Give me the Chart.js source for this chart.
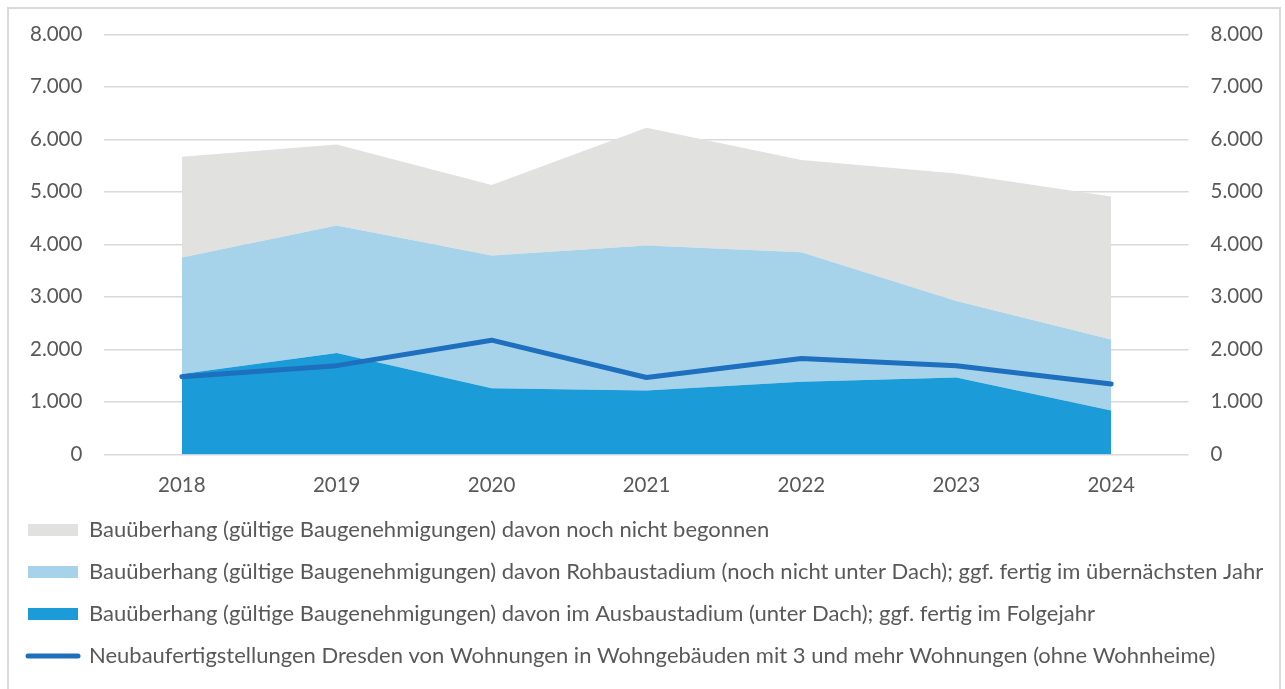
<!DOCTYPE html>
<html>
<head>
<meta charset="utf-8">
<script src="https://cdn.jsdelivr.net/npm/chart.js@4.4.1/dist/chart.umd.min.js"></script>
<style>
  html, body { margin: 0; padding: 0; background: #fff; }
  #wrap { position: relative; width: 1285px; height: 689px; }
  #frame { position: absolute; left: 7px; top: 7px; width: 1274px; height: 690px; border: 2px solid #d9d9d9; box-sizing: border-box; pointer-events: none; }
  canvas { display: block; }
</style>
</head>
<body>
<div id="wrap">
  <canvas id="c" width="1285" height="689"></canvas>
  <div id="frame"></div>
</div>
<script>
const years = ['2018', '2019', '2020', '2021', '2022', '2023', '2024'];
// stacked components (bottom to top)
const ausbaustadium   = [1530, 1930, 1260, 1215, 1385, 1465, 835];
const rohbaustadium   = [2220, 2430, 2530, 2765, 2465, 1455, 1355];
const nichtBegonnen   = [1920, 1540, 1340, 2240, 1755, 2430, 2720];
const fertigstellungen = [1480, 1690, 2175, 1465, 1825, 1690, 1340];
const yMin = 0, yMax = 8000, yStep = 1000;

const labelNichtBegonnen = 'Bauüberhang (gültige Baugenehmigungen) davon noch nicht begonnen';
const labelRohbau = 'Bauüberhang (gültige Baugenehmigungen) davon Rohbaustadium (noch nicht unter Dach); ggf. fertig im übernächsten Jahr';
const labelAusbau = 'Bauüberhang (gültige Baugenehmigungen) davon im Ausbaustadium (unter Dach); ggf. fertig im Folgejahr';
const labelFertig = 'Neubaufertigstellungen Dresden von Wohnungen in Wohngebäuden mit 3 und mehr Wohnungen (ohne Wohnheime)';
const legendOrder = [2, 1, 0, 3];

const textColor = '#595959';
const FONT = { family: 'Lato, "Open Sans", sans-serif', size: 20.5 };
const LEGEND_FONT = { family: 'Lato, "Open Sans", sans-serif', size: 22 };

function fmt(v) { return String(v).replace(/\B(?=(\d{3})+(?!\d))/g, '.'); }

const chart = new Chart(document.getElementById('c'), {
  type: 'line',
  data: {
    labels: years,
    datasets: [
      { label: labelAusbau, data: ausbaustadium, backgroundColor: '#1b9cd8', borderWidth: 0, pointRadius: 0, fill: 'origin', stack: 'bau', order: 1 },
      { label: labelRohbau, data: rohbaustadium, backgroundColor: '#a6d3ea', borderWidth: 0, pointRadius: 0, fill: '-1', stack: 'bau', order: 1 },
      { label: labelNichtBegonnen, data: nichtBegonnen, backgroundColor: '#e1e1e0', borderWidth: 0, pointRadius: 0, fill: '-1', stack: 'bau', order: 1 },
      { label: labelFertig, data: fertigstellungen, borderColor: '#1f6fbf', backgroundColor: '#1f6fbf', borderWidth: 5, borderCapStyle: 'round', borderJoinStyle: 'round', pointRadius: 0, fill: false, stack: 'line', order: 0 }
    ]
  },
  options: {
    responsive: false,
    animation: false,
    layout: { padding: { top: 18, left: 8, right: 0, bottom: 12 } },
    plugins: {
      tooltip: { enabled: false },
      legend: {
        position: 'bottom',
        align: 'start',
        labels: {
          color: textColor,
          font: LEGEND_FONT,
          padding: 20,
          boxWidth: 50,
          boxHeight: 12,
          usePointStyle: true,
          pointStyleWidth: 50,
          sort: (a, b) => legendOrder.indexOf(a.datasetIndex) - legendOrder.indexOf(b.datasetIndex),
          generateLabels: (ch) => ch.data.datasets.map((ds, i) => {
            const isLine = i === 3;
            return {
              text: ds.label,
              datasetIndex: i,
              fillStyle: ds.backgroundColor,
              strokeStyle: isLine ? ds.borderColor : 'rgba(0,0,0,0)',
              lineWidth: isLine ? 5 : 0,
              lineCap: 'round',
              pointStyle: isLine ? 'line' : 'rect',
              fontColor: textColor,
              hidden: false
            };
          })
        }
      }
    },
    scales: {
      x: {
        type: 'category',
        offset: true,
        grid: { display: false, drawTicks: false, tickLength: 0 },
        border: { display: false },
        ticks: { color: textColor, font: FONT, padding: 19 },
        afterFit: (scale) => { scale.height = Math.max(0, scale.height - 18); }
      },
      y: {
        position: 'left',
        stacked: true,
        min: yMin, max: yMax,
        ticks: { stepSize: yStep, color: textColor, font: FONT, padding: 22, callback: (v) => fmt(v) },
        grid: { color: '#d9d9d9', lineWidth: 1.5, drawTicks: false, tickLength: 0 },
        border: { display: false }
      },
      y2: {
        position: 'right',
        min: yMin, max: yMax,
        ticks: { stepSize: yStep, color: textColor, font: FONT, padding: 22, callback: (v) => fmt(v) },
        grid: { display: false, drawTicks: false, tickLength: 0 },
        border: { display: false }
      }
    }
  }
});
</script>
</body>
</html>
